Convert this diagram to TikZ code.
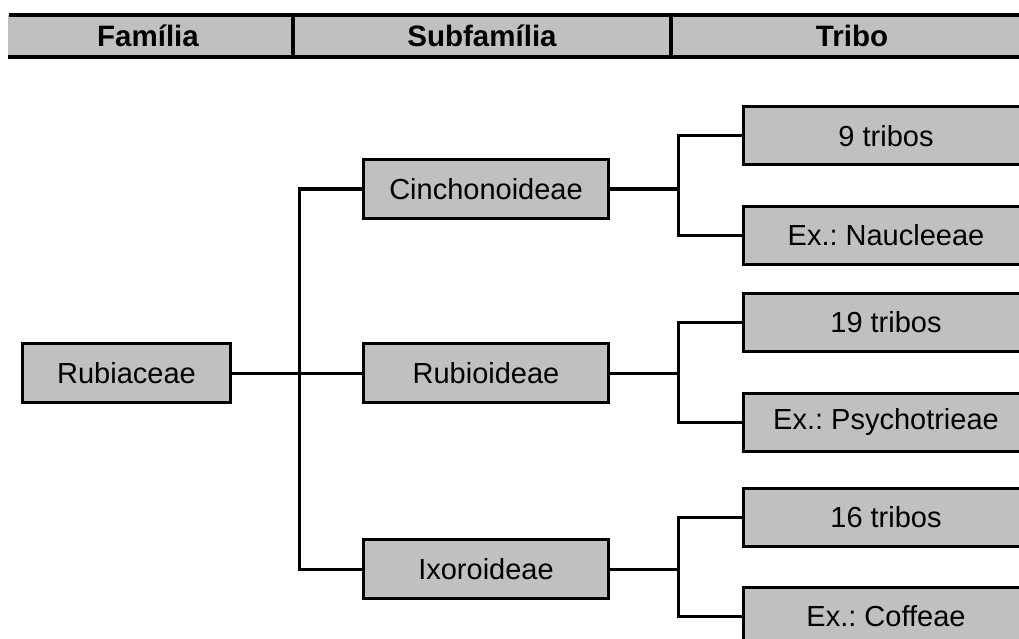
\documentclass[tikz,border=0pt]{standalone}
\usepackage{fontspec}
\setmainfont{Liberation Sans}
\usetikzlibrary{calc}
\frenchspacing
\definecolor{boxgray}{HTML}{C0C0C0}
\tikzset{
  taxon/.style={draw=black, fill=boxgray, line width=3pt, inner sep=0pt,
    font=\fontsize{29}{34}\selectfont, text=black},
  sub/.style={taxon, minimum width=245pt, minimum height=59pt},
  tribe/.style={taxon, minimum width=285pt, minimum height=58pt},
  link/.style={line width=3pt, line join=miter, line cap=rect},
  headtext/.style={font=\fontsize{29.5}{34}\selectfont\bfseries, inner sep=0pt}
}
\begin{document}
\begin{tikzpicture}[x=1pt, y=-1pt]
  \useasboundingbox (0,0) rectangle (1019,639);
  \clip (0,0) rectangle (1019,639);

  % header band
  \fill[boxgray] (8,15) rectangle (1040,57);
  \draw[line width=4pt] (9,15) -- (1040,15);
  \draw[line width=3.5pt] (8,57) -- (1040,57);
  \draw[line width=4pt] (293,15) -- (293,57);
  \draw[line width=4pt] (671,15) -- (671,57);
  \node[headtext] (hfam) at (148,36) {Família};
  \node[headtext] (hsub) at (482,36) {Subfamília};
  \node[headtext] (htri) at (852,36) {Tribo};

  % family
  \node[taxon, minimum width=208pt, minimum height=59pt] (rub) at (126.5,373) {Rubiaceae};

  % subfamilies
  \node[sub] (cin) at (486,189) {Cinchonoideae};
  \node[sub] (rbo) at (486,373) {Rubioideae};
  \node[sub] (ixo) at (486,569) {Ixoroideae};

  % tribes
  \node[tribe] (t1) at (886,136) {9 tribos};
  \node[tribe] (t2) at (886,235) {Ex.: Naucleeae};
  \node[tribe] (t3) at (886,322) {19 tribos};
  \node[tribe] (t4) at (886,422) {Ex.: Psychotrieae};
  \node[tribe] (t5) at (886,517) {16 tribos};
  \node[tribe] (t6) at (886,616) {Ex.: Coffeae};

  % family to subfamilies
  \coordinate (trunk) at (299,373);
  \draw[link] (rub.east) -- (rbo.west);
  \draw[link] (cin.west) -| (trunk) |- (ixo.west);

  % subfamilies to tribes
  \coordinate (j1) at (678,189);
  \coordinate (j2) at (678,373);
  \coordinate (j3) at (678,569);
  \draw[link] (cin.east) -- (j1);
  \draw[link] (rbo.east) -- (j2);
  \draw[link] (ixo.east) -- (j3);
  \draw[link] (t1.west) -| (j1) |- (t2.west);
  \draw[link] (t3.west) -| (j2) |- (t4.west);
  \draw[link] (t5.west) -| (j3) |- (t6.west);
\end{tikzpicture}
\end{document}
